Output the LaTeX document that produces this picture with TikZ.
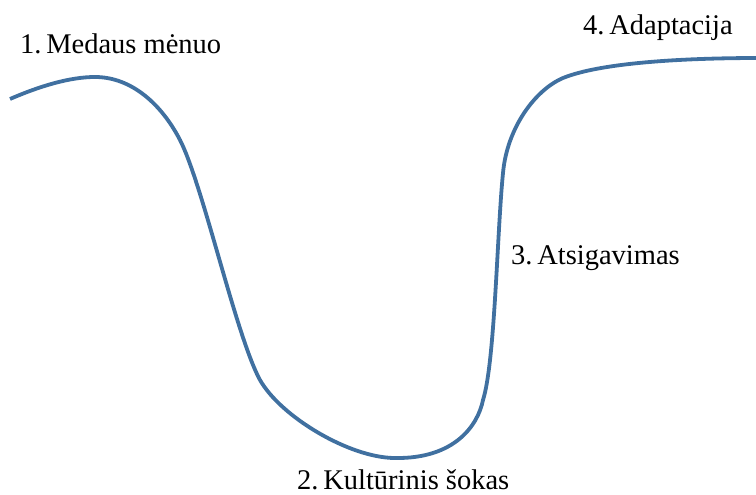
\documentclass[tikz,border=0pt]{standalone}
\usepackage{fontspec}
\setmainfont{Liberation Serif}
\definecolor{curveblue}{RGB}{64,112,160}
\begin{document}
\begin{tikzpicture}[x=1bp,y=-1bp,
  lbl/.style={anchor=base west,inner sep=0pt,font=\fontsize{28.6}{32}\selectfont},
  curve/.style={draw=curveblue,line width=3.8bp,line join=round}]
\useasboundingbox (0,0) rectangle (756,495);
\draw[curve] (10,99)
  .. controls (40,86) and (70,77) .. (95,77)
  .. controls (132,77) and (162,105) .. (180,140)
  .. controls (203,185) and (236,336) .. (260,380)
  .. controls (281,417) and (350,458) .. (395,458)
  .. controls (455,459) and (478,425) .. (483,400)
  .. controls (495,362) and (497,233) .. (503,173)
  .. controls (507,128) and (535,90) .. (563,78)
  .. controls (600,63) and (680,58) .. (760,58);
\node[lbl] (n1) at (20,54) {1.\,Medaus mėnuo};
\node[lbl] (n4) at (583,35) {4.\,Adaptacija};
\node[lbl] (n3) at (511,265) {3.\,Atsigavimas};
\node[lbl] (n2) at (297,489) {2.\,Kultūrinis šokas};
\end{tikzpicture}
\end{document}
